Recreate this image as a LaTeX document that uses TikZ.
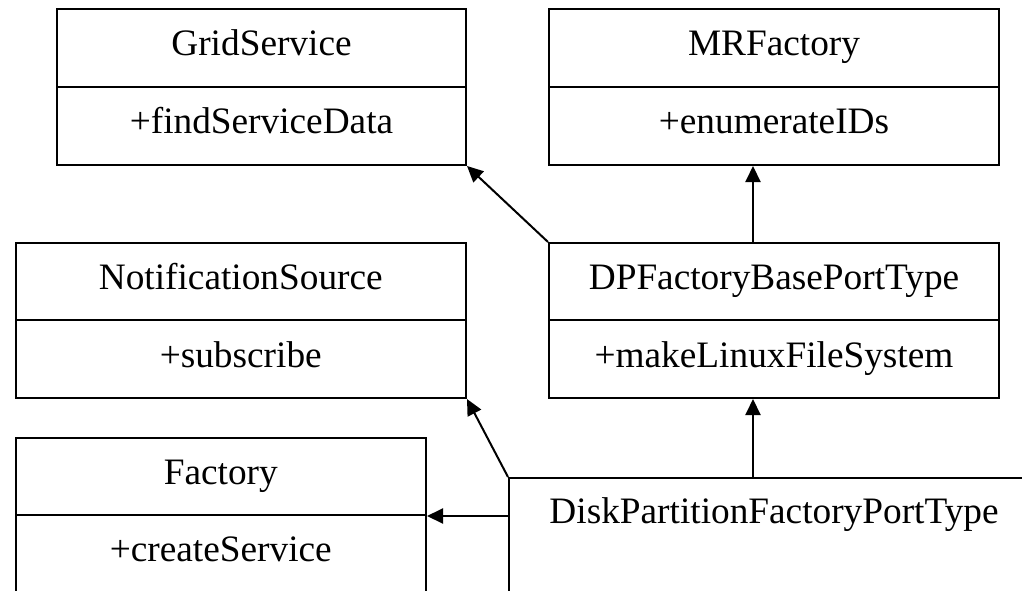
\documentclass[tikz,border=0pt]{standalone}
\usepackage{fontspec}
\setmainfont{Liberation Serif}
\usepackage{tikz}
\usetikzlibrary{arrows.meta}
\pgfdeclarelayer{edgelayer}
\pgfdeclarelayer{nodelayer}
\pgfsetlayers{edgelayer,nodelayer,main}
\tikzstyle{label text}=[inner sep=0pt, text height=25pt, text depth=9pt, font=\fontsize{37.3}{44}\selectfont]
\tikzstyle{compartment}=[label text, rectangle, draw=black, line width=2pt, minimum height=78pt]
\tikzstyle{arrow}=[-{Triangle[length=16pt,width=15pt]}, draw=black, line width=2pt]

\begin{document}
\begin{tikzpicture}[x=1pt, y=-1pt]
            \useasboundingbox (0, 0) rectangle (1022, 591);
            \clip (0, 0) rectangle (1022, 591);
            \coordinate (link) at (753, 0);
            \begin{pgfonlayer}{nodelayer}
                \node [style=compartment, minimum width=409pt] (gridName) at (261.5, 48) {GridService};
                \node [style=compartment, minimum width=409pt] (gridOps) at (261.5, 126) {+findServiceData};

                \node [style=compartment, minimum width=450pt] (mrName) at (774, 48) {MRFactory};
                \node [style=compartment, minimum width=450pt] (mrOps) at (774, 126) {+enumerateIDs};

                \node [style=compartment, minimum width=450.5pt, minimum height=77pt] (notifName) at (240.75, 281.5) {NotificationSource};
                \node [style=compartment, minimum width=450.5pt] (notifOps) at (240.75, 359) {+subscribe};

                \node [style=compartment, minimum width=450pt, minimum height=77pt] (dpbaseName) at (774, 281.5) {DPFactoryBasePortType};
                \node [style=compartment, minimum width=450pt] (dpbaseOps) at (774, 359) {+makeLinuxFileSystem};

                \node [style=compartment, minimum width=410.5pt, minimum height=77pt] (factoryName) at (220.75, 476.5) {Factory};
                \node [style=compartment, minimum width=410.5pt, minimum height=77pt] (factoryOps) at (220.75, 553.5) {+createService};

                \node [style=compartment, minimum width=600pt, minimum height=200pt, anchor=north west] (dpfpt) at (508, 477) {};
                \node [style=label text] (dpfptName) at (774, 515) {DiskPartitionFactoryPortType};
            \end{pgfonlayer}
            \begin{pgfonlayer}{edgelayer}
                \draw [style=arrow] (dpbaseName.north west) to (gridOps.south east);
                \draw [style=arrow] (dpbaseName.north -| link) to (mrOps.south -| link);
                \draw [style=arrow] (dpfpt.north west) to (notifOps.south east);
                \draw [style=arrow] (dpfpt.north -| link) to (dpbaseOps.south -| link);
                \draw [style=arrow] (dpfpt.west |- factoryName.south east) to (factoryName.south east);
            \end{pgfonlayer}
        \end{tikzpicture}
\end{document}
